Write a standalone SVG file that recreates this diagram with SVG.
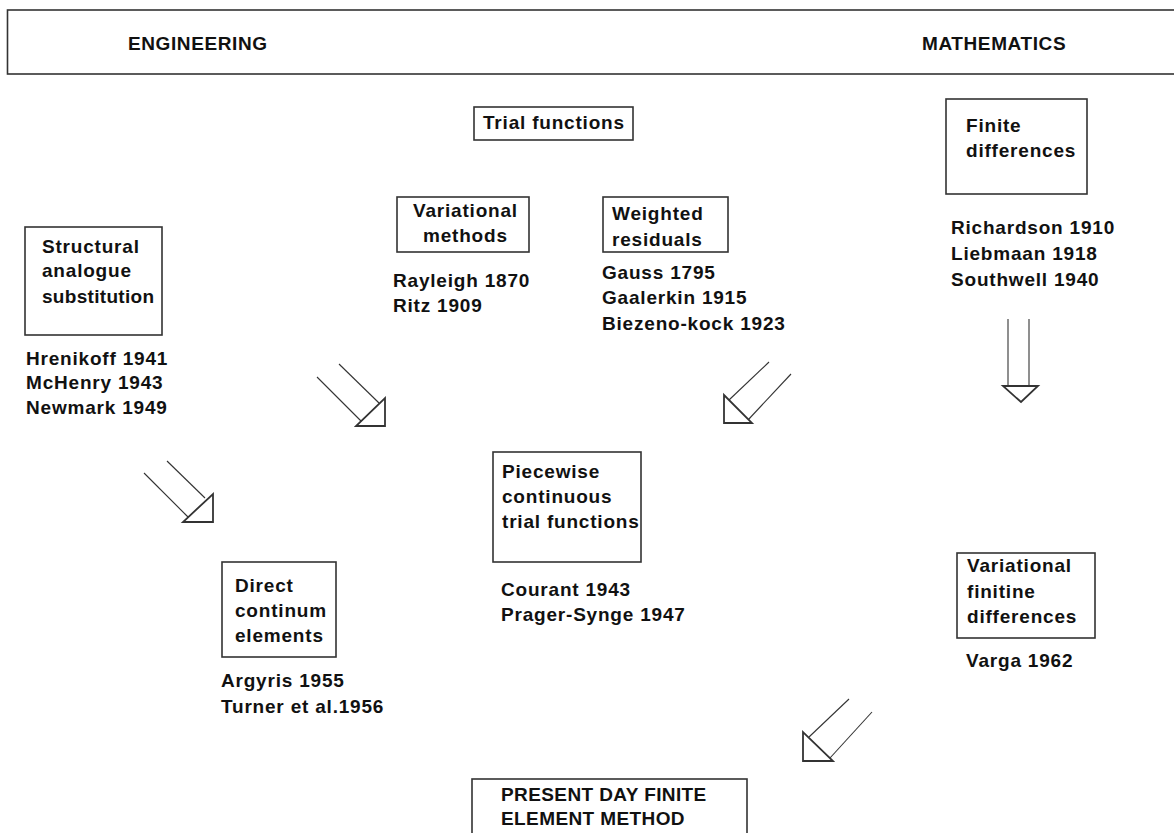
<svg xmlns="http://www.w3.org/2000/svg" width="1174" height="833" viewBox="0 0 1174 833">
<style>
text{font-family:"Liberation Sans",Arial,sans-serif;font-weight:bold;font-size:19px;fill:#111;letter-spacing:0.8px}
.hdr{letter-spacing:0.6px}
.tight{letter-spacing:0.3px}
.caps{letter-spacing:0.4px}
.box{fill:none;stroke:#333;stroke-width:1.6}
.ln{stroke:#333;stroke-width:1.1;fill:none}
.hd{fill:#fff;stroke:#333;stroke-width:1.8;stroke-linejoin:miter}
</style>
<rect width="1174" height="833" fill="#fff"/>
<g id="banner">
<rect class="box" x="7.5" y="10" width="1180" height="64"/>
<text class="hdr" x="128" y="50">ENGINEERING</text>
<text class="hdr" x="922" y="50">MATHEMATICS</text>
</g>
<g id="trial-functions">
<rect class="box" x="474" y="107" width="159" height="33"/>
<text x="483" y="129">Trial functions</text>
</g>
<g id="finite-differences">
<rect class="box" x="946" y="99" width="141" height="95"/>
<text x="966" y="132">Finite</text>
<text x="966" y="157">differences</text>
<text x="951" y="234">Richardson 1910</text>
<text x="951" y="260">Liebmaan 1918</text>
<text x="951" y="286">Southwell 1940</text>
</g>
<g id="variational-methods">
<rect class="box" x="397" y="197" width="132" height="55"/>
<text x="413" y="217">Variational</text>
<text x="423" y="242">methods</text>
<text x="393" y="287">Rayleigh 1870</text>
<text x="393" y="312">Ritz 1909</text>
</g>
<g id="weighted-residuals">
<rect class="box" x="603" y="197" width="125" height="55"/>
<text x="612" y="220">Weighted</text>
<text x="612" y="246">residuals</text>
<text x="602" y="279">Gauss 1795</text>
<text x="602" y="304">Gaalerkin 1915</text>
<text x="602" y="330">Biezeno-kock 1923</text>
</g>
<g id="structural-analogue">
<rect class="box" x="25" y="227" width="137" height="108"/>
<text x="42" y="253">Structural</text>
<text x="42" y="277">analogue</text>
<text class="tight" x="42" y="303">substitution</text>
<text x="26" y="365">Hrenikoff 1941</text>
<text x="26" y="389">McHenry 1943</text>
<text x="26" y="414">Newmark 1949</text>
</g>
<g id="piecewise">
<rect class="box" x="493" y="452" width="148" height="110"/>
<text x="502" y="478">Piecewise</text>
<text x="502" y="503">continuous</text>
<text x="502" y="528">trial functions</text>
<text x="501" y="596">Courant 1943</text>
<text x="501" y="621">Prager-Synge 1947</text>
</g>
<g id="direct-continuum">
<rect class="box" x="222" y="562" width="114" height="95"/>
<text x="235" y="592">Direct</text>
<text x="235" y="617">continum</text>
<text x="235" y="642">elements</text>
<text x="221" y="687">Argyris 1955</text>
<text x="221" y="713">Turner et al.1956</text>
</g>
<g id="variational-finite-differences">
<rect class="box" x="957" y="553" width="138" height="85"/>
<text x="967" y="572">Variational</text>
<text x="967" y="598">finitine</text>
<text x="967" y="623">differences</text>
<text x="966" y="667">Varga 1962</text>
</g>
<g id="present-day">
<rect class="box" x="472" y="779" width="275" height="70"/>
<text class="caps" x="501" y="801">PRESENT DAY FINITE</text>
<text class="caps" x="501" y="825">ELEMENT METHOD</text>
</g>
<g id="connectors">
<line class="ln" x1="339" y1="364" x2="379" y2="403"/>
<line class="ln" x1="317" y1="377" x2="361" y2="421"/>
<polygon class="hd" points="385,398 385,426 356,426"/>
<line class="ln" x1="167" y1="461" x2="205" y2="498"/>
<line class="ln" x1="144" y1="473" x2="188" y2="517"/>
<polygon class="hd" points="213,494 213,522 183,522"/>
<line class="ln" x1="769" y1="362" x2="729" y2="400"/>
<line class="ln" x1="791" y1="374" x2="748" y2="420"/>
<polygon class="hd" points="724,395 724,423 752,423"/>
<line class="ln" x1="849" y1="699" x2="809" y2="737"/>
<line class="ln" x1="872" y1="712" x2="830" y2="758"/>
<polygon class="hd" points="803,732 803,761 833,761"/>
<line class="ln" x1="1008" y1="319" x2="1008" y2="386"/>
<line class="ln" x1="1029" y1="319" x2="1029" y2="386"/>
<polygon class="hd" points="1003,386 1038,386 1021,402"/>
</g>
</svg>
